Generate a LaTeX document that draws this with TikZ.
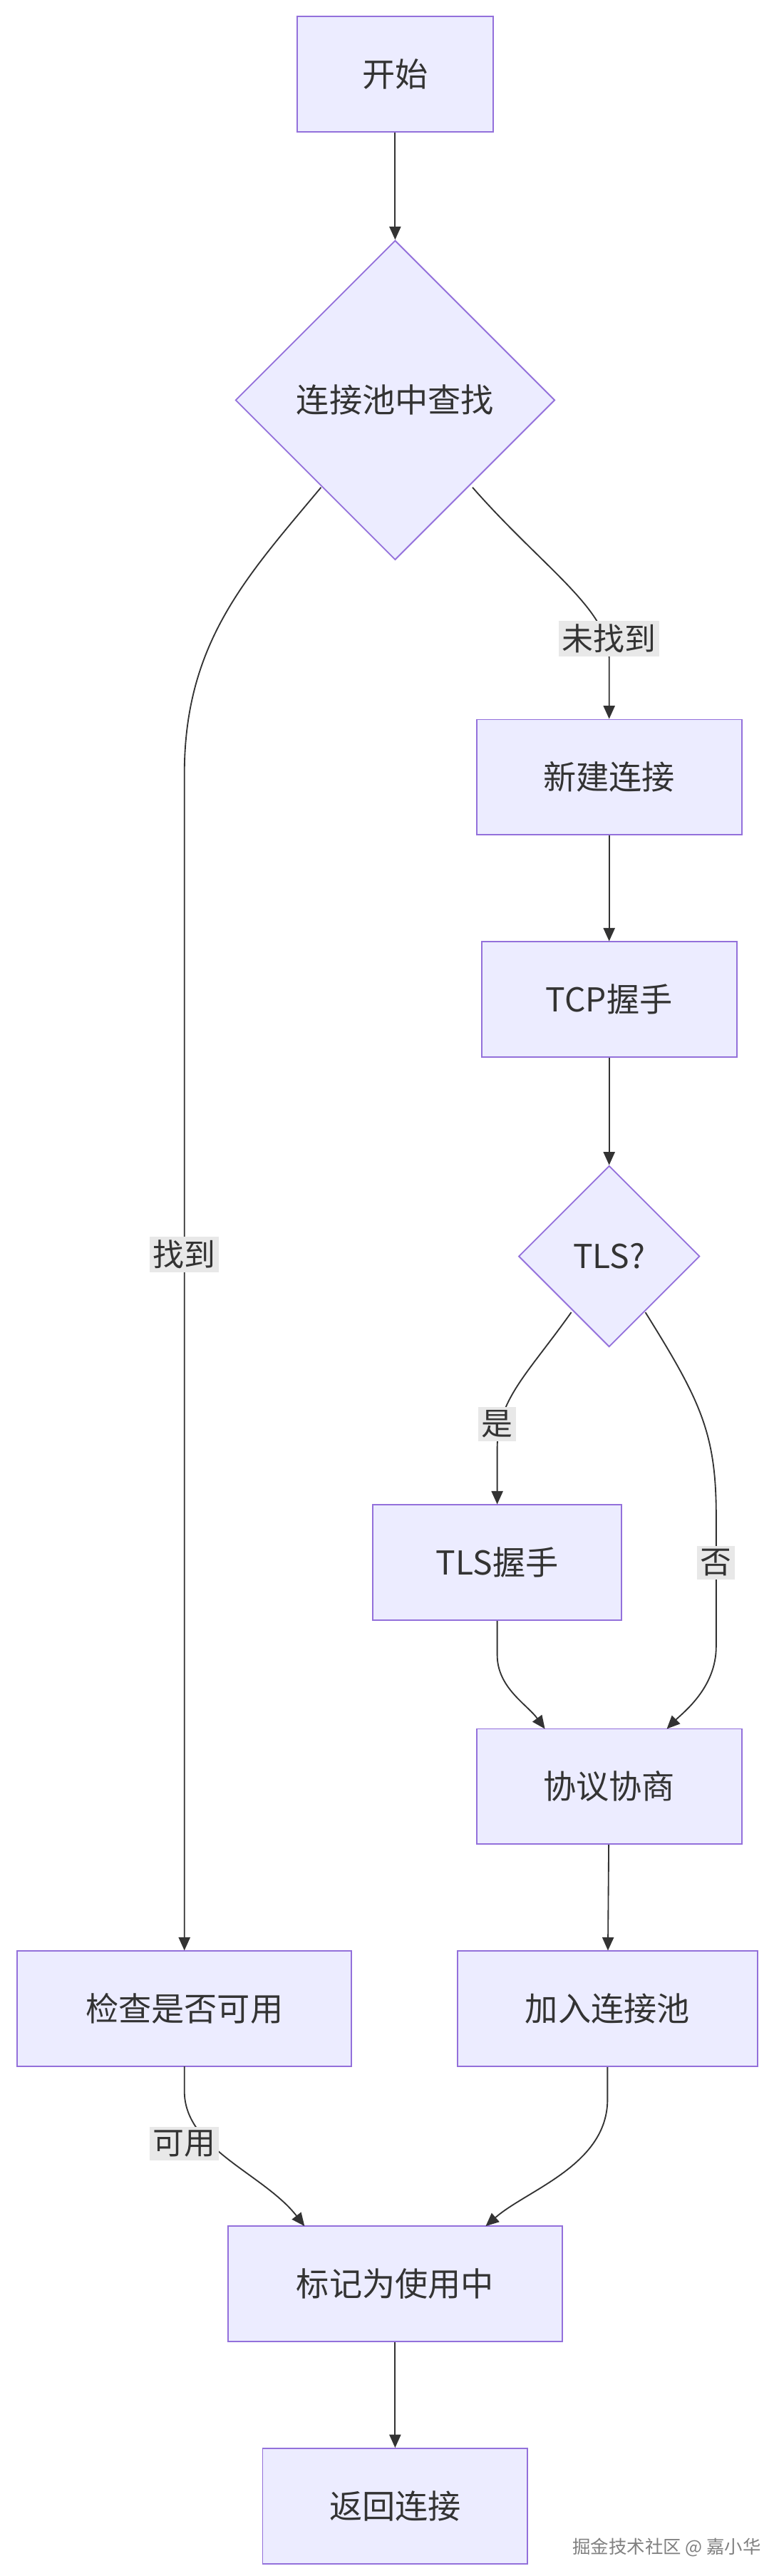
\documentclass[tikz,border=0pt]{standalone}
\usepackage{fontspec}
\setmainfont{Noto Sans CJK SC}
\usetikzlibrary{shapes.geometric,arrows.meta}
\definecolor{nfill}{HTML}{ECECFF}
\definecolor{nline}{HTML}{9370DB}
\definecolor{eline}{HTML}{333333}
\definecolor{lbg}{HTML}{E8E8E8}
\begin{document}
\begin{tikzpicture}[x=1pt,y=-1pt,
  box/.style={draw=nline,fill=nfill,line width=0.8pt,inner sep=0,font=\fontsize{20}{22}\selectfont,text=eline},
  dia/.style={draw=nline,fill=nfill,line width=0.8pt,diamond,inner sep=0,font=\fontsize{20}{22}\selectfont,text=eline,minimum width=#1,minimum height=#1,aspect=1},
  e/.style={draw=eline,line width=0.8pt,-{Triangle[length=8pt,width=7pt]}},
  lab/.style={fill=lbg,inner sep=2pt,font=\fontsize{19}{21}\selectfont,text=eline}]
\useasboundingbox (0,0) rectangle (470,1564.5);
\node[box,minimum width=119,minimum height=70] (start) at (240,45) {开始};
\node[dia=194] (find) at (240,243) {连接池中查找};
\node[box,minimum width=161,minimum height=70] (new) at (370,472) {新建连接};
\node[box,minimum width=155,minimum height=70] (tcp) at (370,607) {TCP握手};
\node[dia=110] (tls) at (370,763) {TLS?};
\node[box,minimum width=151,minimum height=70] (tlsh) at (302,949) {TLS握手};
\node[box,minimum width=161,minimum height=70] (neg) at (370,1085) {协议协商};
\node[box,minimum width=203,minimum height=70] (chk) at (112,1220) {检查是否可用};
\node[box,minimum width=182,minimum height=70] (add) at (369,1220) {加入连接池};
\node[box,minimum width=203,minimum height=70] (mark) at (240,1387) {标记为使用中};
\node[box,minimum width=161,minimum height=70] (ret) at (240,1522) {返回连接};
\node[font=\fontsize{11}{13}\selectfont,text=gray] (wm) at (405,1547) {掘金技术社区 @ 嘉小华};
\draw[e] (start) -- (find);
\draw[e] (287,296) .. controls (330,345) and (370,370) .. (370,400) -- (new.north);
\node[lab] at (370,388) {未找到};
\draw[e] (195,296) .. controls (150,350) and (112,390) .. (112,470) -- (chk.north);
\node[lab] at (112,762) {找到};
\draw[e] (new) -- (tcp);
\draw[e] (tcp) -- (tls);
\draw[e] (347,797) .. controls (320,835) and (302,850) .. (302,880) -- (tlsh.north);
\node[lab] at (302,865) {是};
\draw[e] (392,797) .. controls (425,850) and (435,870) .. (435,920) -- (435,1000) .. controls (435,1025) and (415,1040) .. (405,1050);
\node[lab] at (435,949) {否};
\draw[e] (tlsh.south) -- (302,1005) .. controls (302,1025) and (320,1035) .. (331,1050);
\draw[e] (neg) -- (add);
\draw[e] (112,1255) -- (112,1270) .. controls (112,1305) and (160,1320) .. (185,1352);
\node[lab] at (112,1302) {可用};
\draw[e] (add.south) -- (369,1275) .. controls (369,1315) and (320,1330) .. (295,1352);
\draw[e] (mark) -- (ret);
\end{tikzpicture}
\end{document}
